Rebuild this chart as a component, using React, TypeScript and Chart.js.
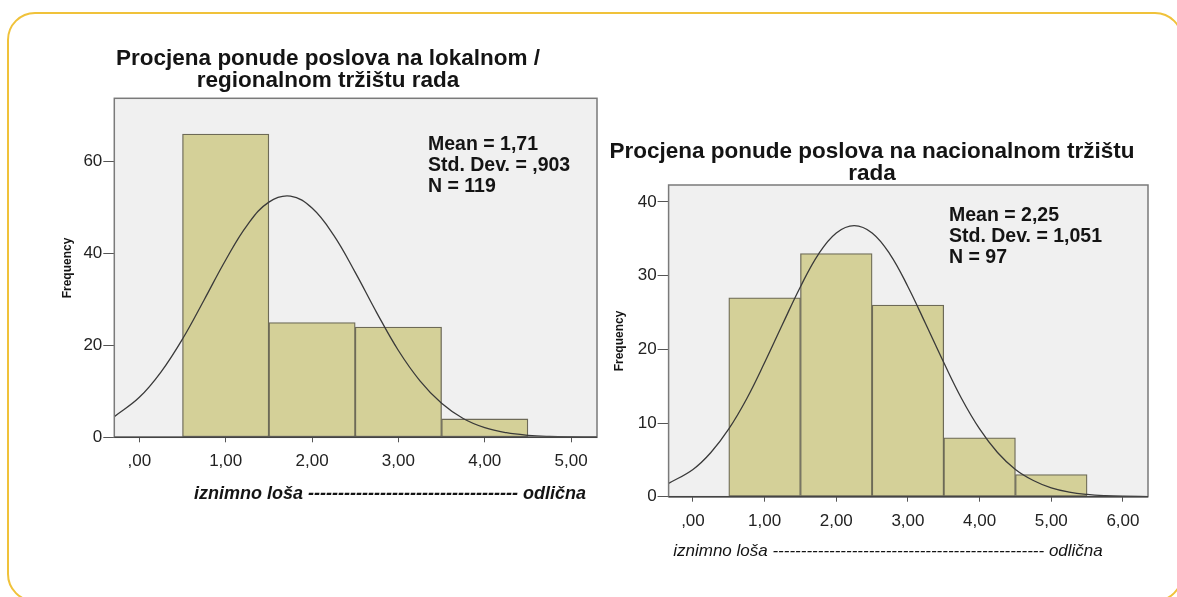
import React, { useEffect, useRef } from "react";
import { Chart, registerables } from "chart.js";

Chart.register(...registerables);

const FONT = '"Liberation Sans", Arial, Helvetica, sans-serif';

// ---------- Left histogram: lokalno / regionalno ----------
const leftBinCenters = [1, 2, 3, 4];
const leftFrequencies = [66, 25, 24, 4];
const leftCurveX = [-0.29, 0, 0.25, 0.5, 0.75, 1, 1.25, 1.5, 1.75, 2, 2.25, 2.5, 2.75, 3, 3.25, 3.5, 3.75, 4, 4.25, 4.5, 4.75, 5, 5.3];
const leftCurveY = [4.5, 8.7, 14.2, 21.4, 29.9, 38.6, 46.2, 51.2, 52.5, 49.9, 44.0, 35.9, 27.1, 18.9, 12.3, 7.4, 4.1, 2.1, 1.0, 0.44, 0.18, 0.07, 0.02];
const leftXTickValues = [0, 1, 2, 3, 4, 5];
const leftXTickLabels = [",00", "1,00", "2,00", "3,00", "4,00", "5,00"];
const leftYTickValues = [0, 20, 40, 60];
const leftTitle = ["Procjena ponude poslova na lokalnom /", "regionalnom tržištu rada"];
const leftStats = ["Mean = 1,71", "Std. Dev. = ,903", "N = 119"];
const leftXTitle = "iznimno loša ----------------------------------- odlična";

// ---------- Right histogram: nacionalno ----------
const rightBinCenters = [1, 2, 3, 4, 5];
const rightFrequencies = [27, 33, 26, 8, 3];
const rightCurveX = [-0.34, 0, 0.25, 0.5, 0.75, 1, 1.25, 1.5, 1.75, 2, 2.25, 2.5, 2.75, 3, 3.25, 3.5, 3.75, 4, 4.25, 4.5, 4.75, 5, 5.25, 5.5, 5.75, 6, 6.35];
const rightCurveY = [1.8, 3.7, 6.0, 9.2, 13.3, 18.2, 23.4, 28.5, 32.9, 35.8, 36.8, 35.8, 32.9, 28.5, 23.4, 18.2, 13.3, 9.2, 6.0, 3.7, 2.2, 1.2, 0.63, 0.31, 0.14, 0.06, 0.02];
const rightXTickValues = [0, 1, 2, 3, 4, 5, 6];
const rightXTickLabels = [",00", "1,00", "2,00", "3,00", "4,00", "5,00", "6,00"];
const rightYTickValues = [0, 10, 20, 30, 40];
const rightTitle = ["Procjena ponude poslova na nacionalnom tržištu", "rada"];
const rightStats = ["Mean = 2,25", "Std. Dev. = 1,051", "N = 97"];
const rightXTitle = "iznimno loša ------------------------------------------------ odlična";

const W = 1177;
const H = 597;
const Y_AXIS_W = 60;
const X_AXIS_H = 40;

type Spec = {
  bins: number[];
  freqs: number[];
  curveX: number[];
  curveY: number[];
  xMin: number;
  xMax: number;
  yMax: number;
  xTicks: number[];
  xLabels: string[];
  yTicks: number[];
  area: { left: number; top: number; right: number; bottom: number };
  title: string[];
  titleX: number;
  titleY: number;
  stats: string[];
  statsX: number;
  statsY: number;
  yTitleX: number;
  yTitleY: number;
  xTitle: string;
  xTitleX: number;
  xTitleY: number;
  xTitleFont: string;
};

const plotPlugin = {
  id: "plotFrame",
  beforeDraw(chart: any) {
    const { ctx, chartArea: a } = chart;
    ctx.save();
    ctx.fillStyle = "#f0f0f0";
    ctx.fillRect(a.left, a.top, a.right - a.left, a.bottom - a.top);
    ctx.restore();
  },
  afterDatasetsDraw(chart: any) {
    const { ctx, chartArea: a } = chart;
    ctx.save();
    ctx.strokeStyle = "#7a7a7a";
    ctx.lineWidth = 1.5;
    ctx.strokeRect(a.left, a.top, a.right - a.left, a.bottom - a.top);
    ctx.beginPath();
    ctx.strokeStyle = "#444";
    ctx.moveTo(a.left, a.bottom);
    ctx.lineTo(a.right, a.bottom);
    ctx.stroke();
    ctx.restore();
  },
};

function textPlugin(s: Spec) {
  return {
    id: "texts",
    afterDraw(chart: any) {
      const ctx = chart.ctx;
      ctx.save();
      ctx.fillStyle = "#141414";
      ctx.textBaseline = "alphabetic";
      ctx.textAlign = "center";
      ctx.font = `bold 22.5px ${FONT}`;
      s.title.forEach((line, i) => ctx.fillText(line, s.titleX, s.titleY + i * 22));
      ctx.textAlign = "left";
      ctx.font = `bold 19.5px ${FONT}`;
      s.stats.forEach((line, i) => ctx.fillText(line, s.statsX, s.statsY + i * 21));
      ctx.save();
      ctx.translate(s.yTitleX, s.yTitleY);
      ctx.rotate(-Math.PI / 2);
      ctx.textAlign = "center";
      ctx.textBaseline = "middle";
      ctx.font = `bold 12px ${FONT}`;
      ctx.fillText("Frequency", 0, 0);
      ctx.restore();
      ctx.textAlign = "center";
      ctx.font = s.xTitleFont;
      ctx.fillText(s.xTitle, s.xTitleX, s.xTitleY);
      ctx.restore();
    },
  };
}

function makeConfig(s: Spec): any {
  const tickFont = { family: FONT, size: 17 };
  return {
    type: "bar",
    data: {
      datasets: [
        {
          type: "line",
          data: s.curveX.map((x, i) => ({ x, y: s.curveY[i] })),
          borderColor: "#3a3a3a",
          borderWidth: 1.3,
          pointRadius: 0,
          fill: false,
          tension: 0.4,
        },
        {
          type: "bar",
          data: s.bins.map((x, i) => ({ x, y: s.freqs[i] })),
          backgroundColor: "#d4d098",
          borderColor: "#6d6a57",
          borderWidth: 1.3,
          borderSkipped: false,
          barPercentage: 1,
          categoryPercentage: 1,
        },
      ],
    },
    options: {
      responsive: false,
      animation: false,
      events: [],
      layout: {
        padding: {
          left: s.area.left - Y_AXIS_W,
          top: s.area.top,
          right: W - s.area.right,
          bottom: H - s.area.bottom - X_AXIS_H,
        },
      },
      plugins: { legend: { display: false }, tooltip: { enabled: false }, title: { display: false } },
      scales: {
        x: {
          type: "linear",
          min: s.xMin,
          max: s.xMax,
          offset: false,
          grid: { offset: false, drawOnChartArea: false, drawTicks: true, tickLength: 5, color: "#555", lineWidth: 1 },
          border: { display: false },
          ticks: {
            includeBounds: false,
            font: tickFont,
            color: "#222",
            padding: 9,
            maxRotation: 0,
            autoSkip: false,
            callback: (v: number) => {
              const i = s.xTicks.indexOf(v);
              return i >= 0 ? s.xLabels[i] : "";
            },
          },
          afterBuildTicks: (scale: any) => {
            scale.ticks = s.xTicks.map((v) => ({ value: v }));
          },
          afterFit: (scale: any) => {
            scale.height = X_AXIS_H;
          },
        },
        y: {
          type: "linear",
          min: 0,
          max: s.yMax,
          grid: { drawOnChartArea: false, drawTicks: true, tickLength: 11, color: "#555", lineWidth: 1 },
          border: { display: false },
          ticks: {
            includeBounds: false,
            font: tickFont,
            color: "#222",
            padding: 1,
            autoSkip: false,
            callback: (v: number) => String(v),
          },
          afterBuildTicks: (scale: any) => {
            scale.ticks = s.yTicks.map((v) => ({ value: v }));
          },
          afterFit: (scale: any) => {
            scale.width = Y_AXIS_W;
          },
        },
      },
    },
    plugins: [plotPlugin, textPlugin(s)],
  };
}

const leftSpec: Spec = {
  bins: leftBinCenters,
  freqs: leftFrequencies,
  curveX: leftCurveX,
  curveY: leftCurveY,
  xMin: -0.29,
  xMax: 5.3,
  yMax: 73.8,
  xTicks: leftXTickValues,
  xLabels: leftXTickLabels,
  yTicks: leftYTickValues,
  area: { left: 114.3, top: 98.3, right: 597, bottom: 437.3 },
  title: leftTitle,
  titleX: 328,
  titleY: 65,
  stats: leftStats,
  statsX: 428,
  statsY: 149.5,
  yTitleX: 68,
  yTitleY: 268,
  xTitle: leftXTitle,
  xTitleX: 390,
  xTitleY: 499,
  xTitleFont: `italic bold 18px ${FONT}`,
};

const rightSpec: Spec = {
  bins: rightBinCenters,
  freqs: rightFrequencies,
  curveX: rightCurveX,
  curveY: rightCurveY,
  xMin: -0.34,
  xMax: 6.35,
  yMax: 42.3,
  xTicks: rightXTickValues,
  xLabels: rightXTickLabels,
  yTicks: rightYTickValues,
  area: { left: 668.6, top: 185, right: 1148, bottom: 496.7 },
  title: rightTitle,
  titleX: 872,
  titleY: 158,
  stats: rightStats,
  statsX: 949,
  statsY: 221,
  yTitleX: 620,
  yTitleY: 341,
  xTitle: rightXTitle,
  xTitleX: 888,
  xTitleY: 556,
  xTitleFont: `italic 17px ${FONT}`,
};

export default function App() {
  const leftRef = useRef<HTMLCanvasElement | null>(null);
  const rightRef = useRef<HTMLCanvasElement | null>(null);

  useEffect(() => {
    const charts: Chart[] = [];
    if (leftRef.current) charts.push(new Chart(leftRef.current, makeConfig(leftSpec)));
    if (rightRef.current) charts.push(new Chart(rightRef.current, makeConfig(rightSpec)));
    return () => charts.forEach((c) => c.destroy());
  }, []);

  const canvasStyle: React.CSSProperties = { position: "absolute", left: 0, top: 0, width: W, height: H };

  return (
    <div style={{ position: "absolute", left: 0, top: 0, width: W, height: H, overflow: "hidden", background: "#ffffff" }}>
      <div
        style={{
          position: "absolute",
          left: 7,
          top: 12,
          width: 1176,
          height: 590,
          border: "2.5px solid #f0c23a",
          borderRadius: 28,
          boxSizing: "border-box",
        }}
      />
      <canvas ref={leftRef} width={W} height={H} style={canvasStyle} />
      <canvas ref={rightRef} width={W} height={H} style={canvasStyle} />
    </div>
  );
}
